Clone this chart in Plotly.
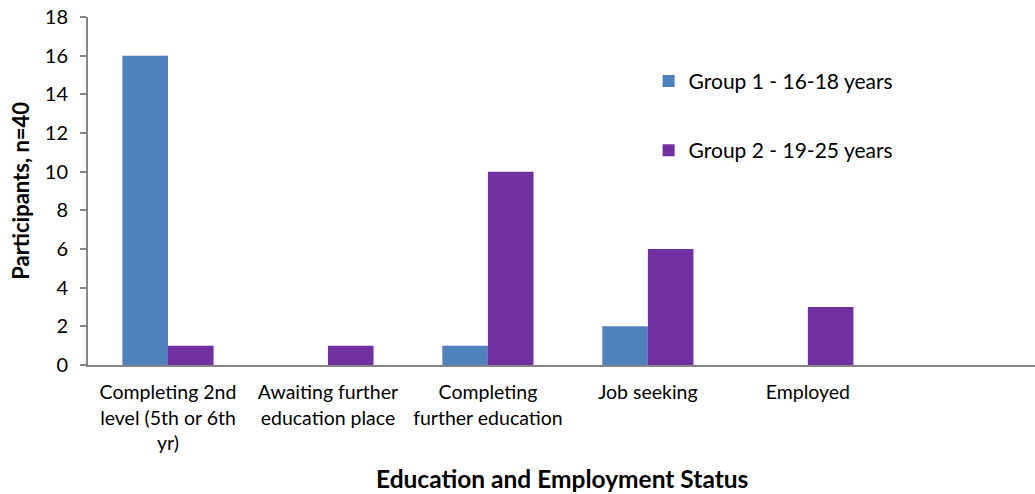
import plotly.graph_objects as go

# Categories and counts per age group
categories = [
    "Completing 2nd<br>level (5th or 6th<br>yr)",
    "Awaiting further<br>education place",
    "Completing<br>further education",
    "Job seeking",
    "Employed",
]
group1 = [16, 0, 1, 2, 0]
group2 = [1, 1, 10, 6, 3]
y_ticks = [0, 2, 4, 6, 8, 10, 12, 14, 16, 18]

FONT = "Lato"
AXIS_GREY = "#868686"

fig = go.Figure()
fig.add_trace(go.Bar(
    x=categories, y=group1, name="Group 1 - 16-18 years",
    marker=dict(color="#4F81BD", line=dict(width=0)),
    legendgroup="g1",
))
fig.add_trace(go.Bar(
    x=categories, y=group2, name="Group 2 - 19-25 years",
    marker=dict(color="#7030A0", line=dict(width=0)),
    legendgroup="g2",
))

fig.update_layout(
    width=1035, height=494,
    margin=dict(l=88, r=0, t=17, b=129),
    paper_bgcolor="white", plot_bgcolor="white",
    barmode="group", bargap=0.43, bargroupgap=0,
    font=dict(family=FONT, size=19, color="#000000"),
    legend=dict(
        x=0.592, y=0.716, xanchor="left", yanchor="middle",
        font=dict(family=FONT, size=21),
        tracegroupgap=39, traceorder="grouped",
        bgcolor="rgba(0,0,0,0)",
        itemwidth=30,
    ),
    xaxis=dict(
        type="category",
        range=[-0.5, 5.42],
        automargin=False,
        showline=True, linecolor=AXIS_GREY, linewidth=2,
        ticks="", showgrid=False,
        tickfont=dict(family=FONT, size=19.5),
        ticklabelstandoff=9,
    ),
    yaxis=dict(
        range=[0, 18],
        tickvals=y_ticks,
        automargin=False,
        showline=True, linecolor=AXIS_GREY, linewidth=2,
        ticks="outside", ticklen=6, tickcolor=AXIS_GREY, tickwidth=2,
        showgrid=False, zeroline=False,
        tickfont=dict(family=FONT, size=20),
        ticklabelstandoff=8,
    ),
    annotations=[
        dict(text="<b>Education and Employment Status</b>",
             xref="paper", yref="paper", x=0.5, y=-0.327,
             xanchor="center", yanchor="middle", showarrow=False,
             font=dict(family=FONT, size=24.5)),
        dict(text="<b>Participants, n=40</b>",
             xref="paper", yref="paper", x=-0.072, y=0.5,
             xanchor="center", yanchor="middle", showarrow=False,
             textangle=-90, font=dict(family=FONT, size=22)),
    ],
)

fig.write_html("out.html")
